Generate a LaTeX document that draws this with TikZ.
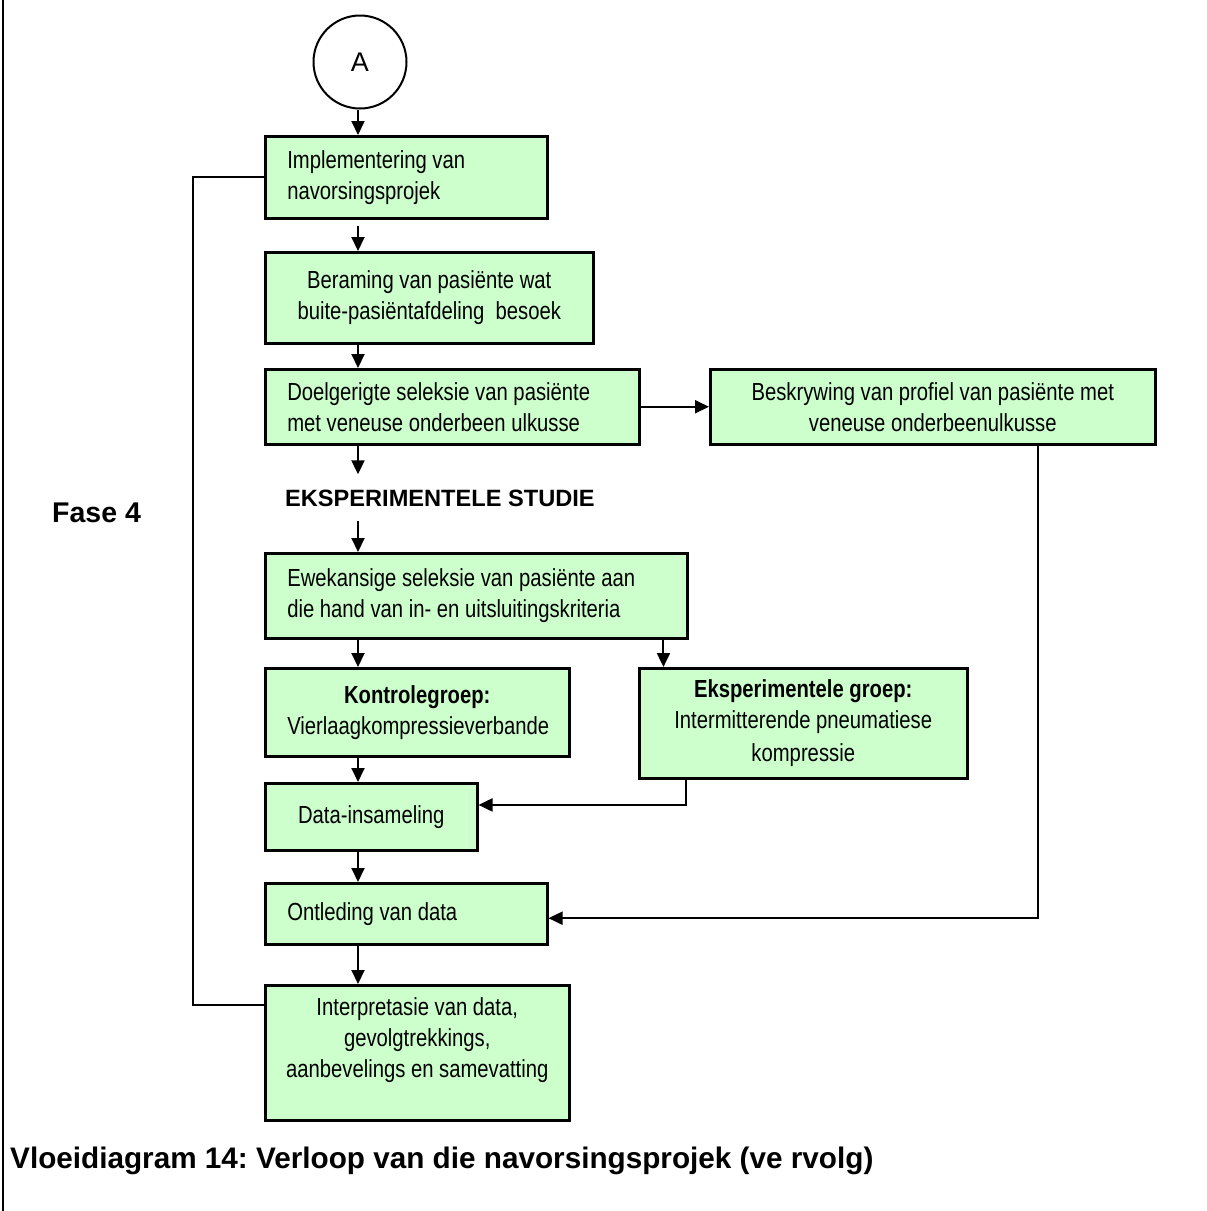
\documentclass[tikz,border=0pt]{standalone}
\usepackage{fontspec}
\setmainfont{Liberation Sans}
\newfontfamily\narrowfont[FakeStretch=0.82]{Liberation Sans}
\usetikzlibrary{arrows.meta,calc}
\definecolor{boxgreen}{HTML}{CCFFCC}
\frenchspacing
\begin{document}
\begin{tikzpicture}[x=1pt,y=-1pt,
  box/.style={draw, line width=2.5pt, fill=boxgreen, anchor=north west,
    inner xsep=22pt, inner ysep=0pt,
    font=\narrowfont\fontsize{24.7}{31}\selectfont},
  lbox/.style={box, align=flush left},
  cbox/.style={box, align=flush center},
  arr/.style={line width=2pt, -{Triangle[length=14pt,width=13pt]}},
  link/.style={line width=2pt}]
\useasboundingbox (0,0) rectangle (1207,1211);

% page margin rule
\draw[line width=2pt] (2.5,0) -- (2.5,1211);

% column positions
\coordinate (col) at (358,0);
\coordinate (loopx) at (193,0);

% connector A
\node[draw, circle, line width=2pt, minimum size=93pt, inner sep=0pt,
  font=\fontsize{27}{30}\selectfont] (A) at (360,62) {A};

% process boxes
\node[lbox, text width=238pt, minimum height=82pt] (b1) at (264,135)
  {Implementering van\\navorsingsprojek};
\node[cbox, text width=284pt, minimum height=91pt] (b2) at (264,251)
  {Beraming van pasiënte wat\\buite-pasiëntafdeling\ \ besoek};
\node[lbox, text width=330pt, minimum height=75pt] (b3) at (264,368)
  {Doelgerigte seleksie van pasiënte\\met veneuse onderbeen\ ulkusse};
\node[cbox, text width=401pt, minimum height=75pt] (b4) at (709,368)
  {Beskrywing van profiel van pasiënte met\\veneuse onderbeenulkusse};

\node[anchor=base west, inner xsep=0pt, inner ysep=15pt,
  font=\bfseries\fontsize{23.6}{28}\selectfont] (eks) at (285,506)
  {EKSPERIMENTELE STUDIE};
\node[anchor=base west, inner sep=0pt,
  font=\bfseries\fontsize{28.5}{34}\selectfont] (fase) at (52,522) {Fase 4};

\node[lbox, text width=378pt, minimum height=85pt] (b5) at (264,552)
  {Ewekansige seleksie van pasiënte aan\\die hand van in- en uitsluitingskriteria};
\node[cbox, text width=260pt, minimum height=88pt] (b6) at (264,667)
  {\textbf{Kontrolegroep:}\\Vierlaagkompressieverbande};
\node[cbox, text width=284pt, minimum height=110pt] (b7) at (638,667)
  {\textbf{Eksperimentele groep:}\\Intermitterende pneumatiese\\[2pt]kompressie};
\node[cbox, text width=168pt, minimum height=67pt] (b8) at (264,782)
  {Data-insameling};
\node[lbox, text width=238pt, minimum height=61pt] (b9) at (264,882)
  {Ontleding van data};
\node[cbox, inner xsep=8pt, text width=288pt, minimum height=135pt] (b10) at (264,984)
  {Interpretasie van data,\\gevolgtrekkings,\\aanbevelings en samevatting\\[-10pt]\strut};

\node[anchor=base west, inner sep=0pt,
  font=\bfseries\fontsize{29.7}{34}\selectfont] (cap) at (10,1168)
  {Vloeidiagram 14: Verloop van die navorsingsprojek (ve rvolg)};

% main flow
\draw[arr] (A.south -| col) -- (b1.north -| col);
\draw[arr] ([yshift=-6pt]b1.south -| col) -- (b2.north -| col);
\draw[arr] (b2.south -| col) -- (b3.north -| col);
\draw[arr] (b3.south -| col) -- (eks.north -| col);
\draw[arr] (eks.south -| col) -- (b5.north -| col);
\draw[arr] (b5.south -| col) -- (b6.north -| col);
\draw[arr] (b6.south -| col) -- (b8.north -| col);
\draw[arr] (b8.south -| col) -- (b9.north -| col);
\draw[arr] (b9.south -| col) -- (b10.north -| col);

% side branches
\draw[arr] (b3.east) -- (b4.west);
\coordinate (b5p) at ($(b5.south west)!0.941!(b5.south east)$);
\draw[arr] (b5p) -- (b5p |- b7.north);
\coordinate (b7p) at ($(b7.south west)!0.146!(b7.south east)$);
\coordinate (b8in) at ($(b8.north east)!0.33!(b8.south east)$);
\draw[arr] (b7p) |- (b8in);
\coordinate (b4p) at ($(b4.south west)!0.735!(b4.south east)$);
\coordinate (b9in) at ($(b9.north east)!0.57!(b9.south east)$);
\draw[arr] (b4p) |- (b9in);

% feedback loop
\coordinate (b10out) at ($(b10.north west)!0.156!(b10.south west)$);
\draw[link] (b10out) -- (b10out -| loopx) -- (b1.west -| loopx) -- (b1.west);
\end{tikzpicture}
\end{document}
